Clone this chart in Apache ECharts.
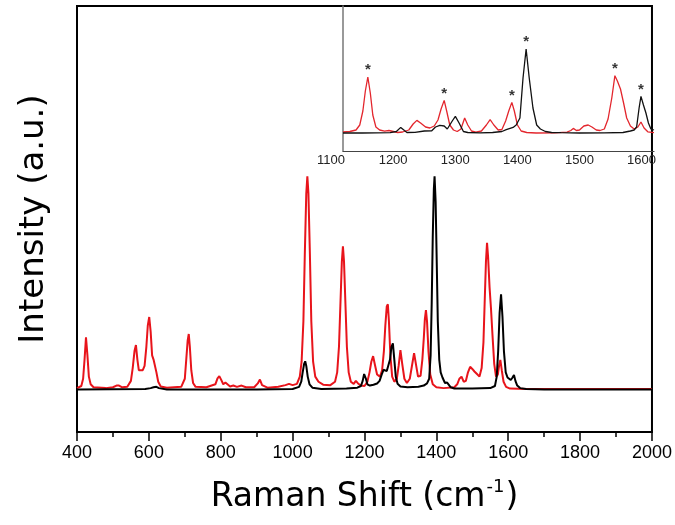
<!DOCTYPE html>
<html>
<head>
<meta charset="utf-8">
<script src="https://cdn.jsdelivr.net/npm/echarts@6/dist/echarts.min.js"></script>
<style>html,body{margin:0;padding:0;background:#fff}#c{width:675px;height:525px}</style>
</head>
<body>
<div id="c"></div>
<script>
// Main spectrum, red (x: Raman shift, y: intensity a.u.)
var mainRedX = [400,412,417,421,425,429,433,438,446,480,500,510,517,526,540,550,555,560,564,568,572,577,583,588,593,597,601,605,609,613,617,621,626,633,650,690,700,704,708,711,714,718,723,730,760,785,791,796,801,807,813,818,826,835,845,858,870,893,903,909,915,930,960,980,990,1000,1012,1020,1025,1030,1034,1038,1041,1044,1048,1052,1057,1063,1072,1085,1105,1118,1124,1129,1133,1137,1140,1143,1147,1151,1156,1162,1170,1176,1182,1190,1200,1208,1214,1219,1224,1229,1235,1243,1249,1254,1258,1262,1265,1268,1272,1277,1283,1290,1295,1300,1305,1311,1318,1326,1332,1338,1343,1349,1356,1361,1365,1368,1371,1374,1378,1383,1390,1400,1420,1450,1458,1464,1470,1476,1482,1488,1494,1500,1506,1513,1520,1526,1531,1535,1538,1541,1544,1548,1552,1556,1561,1566,1571,1575,1578,1582,1587,1594,1605,1650,2000];
var mainRedY = [0.3,0.8,2.5,7,12.2,8,3,1.2,0.5,0.3,0.5,0.9,0.9,0.5,0.6,2,5,9,10.4,7,4.5,4.3,4.5,5.5,10,15,17,13.5,8,7,7.1,4,1.8,0.7,0.4,0.6,2.5,7,11.5,13,10,4.5,1.5,0.6,0.5,1.2,2.6,3.1,2.3,1.2,1.6,1.2,0.7,0.9,0.6,0.9,0.5,0.5,1.4,2.3,1,0.4,0.6,1,1.3,1,1.3,3,6.5,16,32,46,50,46,32,16,6.5,3,1.8,1.1,1,1.8,4,10,20,30,33.6,30,20,10,4,1.8,1.3,2,1.4,0.9,0.8,1.8,4,6.5,7.8,5.8,3.5,3,4.5,9,15,19.5,20,16,8,3,1.8,2.5,5.5,9.2,6,2.5,1.5,2.5,5.5,8.5,6,3,3.2,7,12,16.5,18.6,16,9,3.5,1.2,0.5,0.3,0.5,1.2,2.5,3,1.8,2,4,5.3,4.8,4.2,3.6,3,5,11,22,30,34.4,31,24,19,13,6,3,3.5,5.8,6.9,4.5,1.8,0.6,0.2,0.1,0.1];

// Main spectrum, black
var mainBlackX = [400,590,605,613,621,628,650,900,1000,1018,1024,1028,1032,1035,1038,1042,1047,1055,1080,1150,1180,1190,1195,1199,1201,1204,1208,1215,1225,1235,1242,1248,1253,1257,1262,1267,1271,1275,1279,1283,1287,1292,1300,1320,1350,1365,1374,1380,1384,1387,1390,1393,1395,1398,1401,1404,1408,1412,1417,1424,1430,1434,1440,1450,1500,1550,1563,1568,1572,1576,1580,1584,1588,1593,1598,1602,1607,1612,1616,1620,1625,1633,1650,1700,2000];
var mainBlackY = [0,0.1,0.3,0.5,0.6,0.3,0,0,0.1,0.6,1.8,4,6,6.6,5.5,3,1.2,0.4,0.1,0.2,0.4,0.8,2,3.6,3.8,2.5,1.2,0.9,1.1,1.4,2,3.5,4.6,4.9,4.3,4.5,7,10,10.8,7,3,1.3,0.7,0.5,0.6,0.9,1.4,2.5,8,20,36,47,50,44,30,16,7,4,2.8,1.5,1.6,1.3,0.5,0.2,0.2,0.3,0.8,3,9,18,22.3,17,9,4,2.8,3,2.2,2.8,3.4,2,0.9,0.3,0.1,0,0];

// Inset, red
var insetRedX = [1119,1130,1140,1146,1151,1155,1159,1163,1167,1172,1178,1186,1193,1200,1207,1215,1225,1232,1238,1244,1252,1259,1266,1272,1277,1282,1286,1291,1297,1303,1309,1315,1320,1326,1333,1342,1350,1356,1362,1369,1375,1381,1386,1391,1395,1400,1406,1415,1430,1460,1480,1486,1490,1495,1500,1507,1514,1520,1527,1533,1540,1546,1552,1557,1561,1566,1571,1576,1582,1588,1594,1599,1604,1610,1620];
var insetRedY = [1,1.5,3,8,22,42,56,40,18,6,3,1.8,2.5,1.5,0.5,1,3,9,12.6,10,6,5,7,13,24,32.6,22,8,3,1.5,4,15,8,2,0.8,2,8,13.3,8,3,3.5,12,22,30.6,22,8,2,0.5,0,0.2,0.8,2.5,4.6,2.5,3,7,8,6,3,2.5,4,14,35,57.3,52,44,30,15,7,4,6,11,5,1.2,0.3];

// Inset, black
var insetBlackX = [1119,1150,1195,1205,1212,1218,1222,1235,1250,1262,1268,1275,1282,1287,1290,1295,1300,1306,1313,1320,1340,1360,1375,1382,1393,1398,1404,1409,1414,1419,1425,1431,1437,1445,1455,1470,1500,1540,1570,1582,1588,1592,1596,1599,1603,1607,1611,1615,1620];
var insetBlackY = [0,0,0.3,1.5,5.6,2.5,0.5,0.6,2,2.2,6,7.6,7,4,6,12,16.6,10,1.5,0.5,0.2,0.5,1.5,3.3,5.6,8,15,55,84,55,25,8,4,1.5,0.5,0.3,0,0.2,0.5,2,3,6,25,36.6,28,20,10,4,3];

// Marked peaks in the inset (asterisks)
var starRedX = [1159,1282,1391,1557];
var starRedY = [56,32.6,30.6,57.3];
var starBlackX = [1414,1599];
var starBlackY = [84,36.6];

var FONT = 'Arial, "Liberation Sans", Helvetica, sans-serif';
var TFONT = '"DejaVu Sans", Arial, sans-serif';
function zip(a, b) { return a.map(function (v, i) { return [v, b[i]]; }); }
function plain(v) { return String(v); }

var chart = echarts.init(document.getElementById('c'), null, {renderer: 'canvas'});
var starLabel = {show: true, position: 'top', distance: -1, formatter: '*', color: '#000', fontSize: 15, fontWeight: 'bold', fontFamily: FONT};

chart.setOption({
  animation: false,
  backgroundColor: '#fff',
  grid: [
    {left: 77, right: 21, top: 6, bottom: 93, show: true, borderColor: '#000', borderWidth: 2, backgroundColor: 'transparent'},
    {left: 343, right: 21, top: 6, bottom: 374},
    {left: 331, right: 21, top: 6, bottom: 374}
  ],
  xAxis: [
    {type: 'value', gridIndex: 0, min: 400, max: 2000, interval: 200,
     axisLine: {show: true, onZero: false, lineStyle: {color: '#000', width: 2}},
     axisTick: {show: true, inside: false, length: 9, lineStyle: {color: '#000', width: 1.5}},
     minorTick: {show: true, splitNumber: 2, length: 5, lineStyle: {color: '#000', width: 1.5}},
     splitLine: {show: false},
     axisLabel: {show: true, margin: 12, fontSize: 18, color: '#000', fontFamily: FONT, formatter: plain},
     name: '{t|Raman Shift (cm}{s|-1}{t|)}', nameLocation: 'middle', nameGap: 46,
     nameTextStyle: {rich: {
       t: {fontSize: 33, color: '#000', fontFamily: TFONT, lineHeight: 38},
       s: {fontSize: 18, color: '#000', fontFamily: TFONT, verticalAlign: 'top', lineHeight: 38, padding: [0, 1, 0, 1]}
     }}},
    {type: 'value', gridIndex: 1, min: 1119, max: 1620,
     axisLine: {show: true, onZero: false, lineStyle: {color: '#444', width: 1.2}},
     axisTick: {show: false}, axisLabel: {show: false}, splitLine: {show: false}},
    {type: 'value', gridIndex: 2, min: 1100, max: 1620, interval: 100,
     axisLine: {show: false, onZero: false}, axisTick: {show: false}, splitLine: {show: false},
     axisLabel: {show: true, margin: 3, fontSize: 13, color: '#222', fontFamily: FONT, showMaxLabel: false, formatter: plain}}
  ],
  yAxis: [
    {type: 'value', gridIndex: 0, min: -10, max: 90,
     axisLine: {show: false, onZero: false}, axisTick: {show: false}, axisLabel: {show: false}, splitLine: {show: false},
     name: 'Intensity (a.u.)', nameLocation: 'middle', nameGap: 26,
     nameTextStyle: {fontSize: 34, color: '#000', fontFamily: TFONT}},
    {type: 'value', gridIndex: 1, min: -18, max: 127,
     axisLine: {show: true, onZero: false, lineStyle: {color: '#777', width: 1.5}},
     axisTick: {show: false}, axisLabel: {show: false}, splitLine: {show: false}},
    {type: 'value', gridIndex: 2, min: -18, max: 127, show: false}
  ],
  series: [
    {type: 'line', xAxisIndex: 0, yAxisIndex: 0, data: zip(mainRedX, mainRedY), showSymbol: false, symbol: 'none',
     lineStyle: {color: '#e8141b', width: 2}, z: 2},
    {type: 'line', xAxisIndex: 0, yAxisIndex: 0, data: zip(mainBlackX, mainBlackY), showSymbol: false, symbol: 'none',
     lineStyle: {color: '#000', width: 2}, z: 3},
    {type: 'line', xAxisIndex: 1, yAxisIndex: 1, data: zip(insetRedX, insetRedY), showSymbol: false, symbol: 'none',
     lineStyle: {color: '#e3262d', width: 1.3}, z: 2},
    {type: 'line', xAxisIndex: 1, yAxisIndex: 1, data: zip(insetBlackX, insetBlackY), showSymbol: false, symbol: 'none',
     lineStyle: {color: '#111', width: 1.3}, z: 3},
    {type: 'scatter', xAxisIndex: 1, yAxisIndex: 1, data: zip(starRedX, starRedY).concat(zip(starBlackX, starBlackY)),
     symbol: 'circle', symbolSize: 1, itemStyle: {color: 'rgba(0,0,0,0)'}, label: starLabel, z: 4}
  ]
});
</script>
</body>
</html>
